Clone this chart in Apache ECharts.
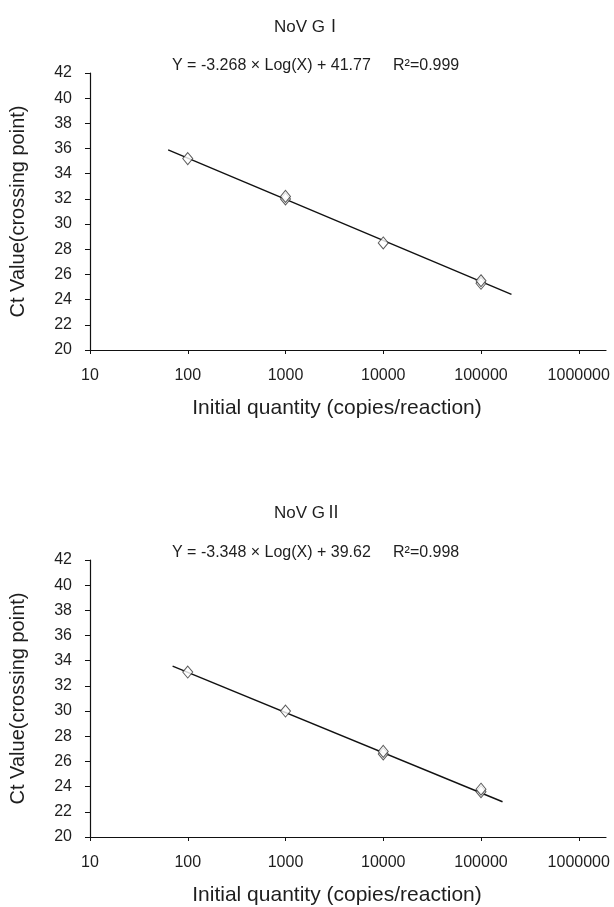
<!DOCTYPE html>
<html>
<head>
<meta charset="utf-8">
<script src="https://cdn.jsdelivr.net/npm/echarts@6/dist/echarts.min.js"></script>
<style>
html,body{margin:0;padding:0;background:#fff;}
#main{width:614px;height:907px;}
</style>
</head>
<body>
<div id="main"></div>
<script>
// ---- data ----
var xTicks = [10, 100, 1000, 10000, 100000, 1000000];
var yTicks = [20, 22, 24, 26, 28, 30, 32, 34, 36, 38, 40, 42];

var g1Title = 'NoV G\u2160';
var g1Equation = 'Y = -3.268 \u00d7 Log(X) + 41.77';
var g1R2 = 'R\u00b2=0.999';
var g1Points = [[100, 35.2], [1000, 32.0], [1000, 32.2], [10000, 28.5], [100000, 25.3], [100000, 25.5]];
var g1Line = [[63, 35.9], [205000, 24.42]];

var g2Title = 'NoV G\u2161';
var g2Equation = 'Y = -3.348 \u00d7 Log(X) + 39.62';
var g2R2 = 'R\u00b2=0.998';
var g2Points = [[100, 33.1], [1000, 30.0], [10000, 26.6], [10000, 26.8], [100000, 23.6], [100000, 23.8]];
var g2Line = [[70, 33.57], [166000, 22.8]];

var xName = 'Initial quantity (copies/reaction)';
var yName = 'Ct Value(crossing point)';

// ---- chart ----
var FONT = '"Liberation Sans", Arial, "Noto Sans CJK SC", sans-serif';
var TXT = '#1e1e1e';

function xAxisOf(gi) {
  return {
    type: 'log', logBase: 10, gridIndex: gi,
    min: 10, max: 1900000,
    name: xName, nameLocation: 'middle', nameGap: 48,
    nameTextStyle: { fontFamily: FONT, fontSize: 21, color: TXT, padding: [0, 22, 0, 0] },
    axisLine: { lineStyle: { color: '#111', width: 1.2 } },
    axisTick: { show: true, length: 4, inside: false, customValues: xTicks, lineStyle: { color: '#111' } },
    axisLabel: { customValues: xTicks, margin: 18, fontFamily: FONT, fontSize: 16, color: TXT,
      formatter: function (v) { return String(Math.round(v)); } },
    minorTick: { show: false },
    splitLine: { show: false }
  };
}
function yAxisOf(gi) {
  return {
    type: 'value', gridIndex: gi, min: 20, max: 42, interval: 2,
    name: yName, nameLocation: 'middle', nameGap: 62,
    nameTextStyle: { fontFamily: FONT, fontSize: 20, color: TXT },
    axisLine: { show: true, lineStyle: { color: '#111', width: 1.2 } },
    axisTick: { show: true, length: 5, lineStyle: { color: '#111' } },
    axisLabel: { margin: 18, fontFamily: FONT, fontSize: 16, color: TXT },
    splitLine: { show: false }
  };
}
function scatterOf(gi, pts) {
  return {
    type: 'scatter', xAxisIndex: gi, yAxisIndex: gi, data: pts,
    symbol: 'diamond', symbolSize: [10, 12],
    itemStyle: { color: '#fff', borderColor: '#333', borderWidth: 1 },
    z: 3
  };
}
function lineOf(gi, pts) {
  return {
    type: 'line', xAxisIndex: gi, yAxisIndex: gi, data: pts,
    showSymbol: false, symbol: 'none',
    lineStyle: { color: '#111', width: 1.4 },
    z: 2
  };
}
function txt(x, y, s, size, align) {
  return { type: 'text', x: x, y: y,
    style: { text: s, font: size + 'px ' + FONT, fill: TXT, textAlign: align, textVerticalAlign: 'middle' } };
}

var chart = echarts.init(document.getElementById('main'), null, { renderer: 'canvas' });
chart.setOption({
  animation: false,
  backgroundColor: '#fff',
  grid: [
    { left: 89, right: 8, top: 73, height: 277 },
    { left: 89, right: 8, top: 560, height: 277 }
  ],
  xAxis: [xAxisOf(0), xAxisOf(1)],
  yAxis: [yAxisOf(0), yAxisOf(1)],
  graphic: [
    txt(308, 27, g1Title, 17, 'center'),
    txt(172, 66, g1Equation, 16, 'left'),
    txt(393, 66, g1R2, 16, 'left'),
    txt(308, 513, g2Title, 17, 'center'),
    txt(172, 553, g2Equation, 16, 'left'),
    txt(393, 553, g2R2, 16, 'left')
  ],
  series: [
    lineOf(0, g1Line), scatterOf(0, g1Points),
    lineOf(1, g2Line), scatterOf(1, g2Points)
  ]
});
</script>
</body>
</html>
